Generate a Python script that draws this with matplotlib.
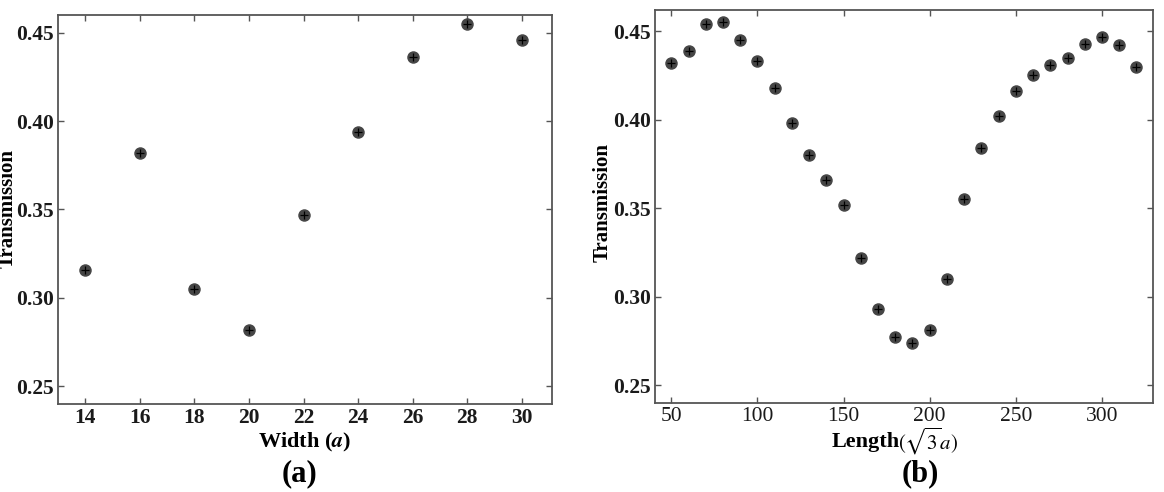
import matplotlib
matplotlib.use("Agg")
import matplotlib.pyplot as plt

plt.rcParams['font.family'] = ['Liberation Serif', 'DejaVu Serif']
plt.rcParams['mathtext.fontset'] = 'stix'

# panel (a): transmission vs width
width = [14, 16, 18, 20, 22, 24, 26, 28, 30]
trans_w = [0.316, 0.382, 0.305, 0.282, 0.347, 0.394, 0.436, 0.455, 0.446]

# panel (b): transmission vs length
length = [50, 60, 70, 80, 90, 100, 110, 120, 130, 140, 150, 160, 170, 180,
          190, 200, 210, 220, 230, 240, 250, 260, 270, 280, 290, 300, 310, 320]
trans_l = [0.432, 0.439, 0.454, 0.455, 0.445, 0.433, 0.418, 0.398, 0.380, 0.366,
           0.352, 0.322, 0.293, 0.277, 0.274, 0.281, 0.310, 0.355, 0.384, 0.402,
           0.416, 0.425, 0.431, 0.435, 0.443, 0.447, 0.442, 0.430]

yticks = [0.25, 0.30, 0.35, 0.40, 0.45]

W, H = 1164, 492
fig = plt.figure(figsize=(W / 100, H / 100), dpi=100)
ax1 = fig.add_axes([0.0498, 0.1789, 0.4244, 0.7907])
ax2 = fig.add_axes([0.5627, 0.1809, 0.4278, 0.7988])


def dots(ax, x, y):
    ax.plot(x, y, 'o', color='#3c3c3c', markersize=9, markeredgewidth=0, alpha=0.95)
    ax.plot(x, y, '+', color='black', markersize=5.5, markeredgewidth=0.9)


def style(ax, xbold):
    for s in ax.spines.values():
        s.set_color('#555555')
        s.set_linewidth(1.3)
    ax.tick_params(direction='in', top=True, right=True, length=4, width=1,
                   color='#555555', labelsize=15.5, labelcolor='#1a1a1a', pad=3)
    ax.set_yticks(yticks)
    ax.set_yticklabels(['%.2f' % v for v in yticks], fontweight='bold')
    for lab in ax.get_xticklabels():
        lab.set_fontweight('bold' if xbold else 'normal')


def ftext(px, py, s, **kw):
    fig.text(px / W, 1 - py / H, s, ha='center', va='center', **kw)


dots(ax1, width, trans_w)
ax1.set_xlim(13, 31.1)
ax1.set_ylim(0.24, 0.46)
ax1.set_xticks(width)
style(ax1, True)

dots(ax2, length, trans_l)
ax2.set_xlim(40.5, 329.6)
ax2.set_ylim(0.24, 0.462)
ax2.set_xticks([50, 100, 150, 200, 250, 300])
style(ax2, False)

# axis labels
ftext(8, 208, 'Transmission', fontsize=15, fontweight='bold', rotation=90)
ftext(603, 203, 'Transmission', fontsize=15, fontweight='bold', rotation=90)
ftext(305, 442, 'Width ($\\boldsymbol{a}$)', fontsize=16, fontweight='bold')
ftext(866, 442, 'Length', fontsize=16, fontweight='bold')
ftext(928, 441, '$(\\sqrt{3}a)$', fontsize=15)

# panel tags
ftext(300, 474, '(a)', fontsize=22, fontweight='bold')
ftext(920, 474, '(b)', fontsize=22, fontweight='bold')

fig.savefig('out.png', dpi=100)
